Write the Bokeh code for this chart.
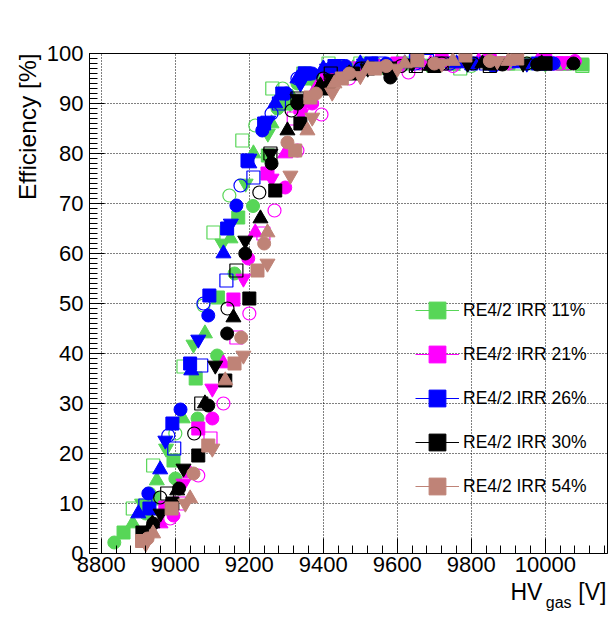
import math
from bokeh.plotting import figure
from bokeh.models import Range1d, Legend, LegendItem, FixedTicker, Title, LinearAxis
from bokeh.embed import file_html
from bokeh.resources import INLINE

# ---------------- data (HV in V, efficiency in %) ----------------
labels = ["RE4/2 IRR 11%", "RE4/2 IRR 21%", "RE4/2 IRR 26%", "RE4/2 IRR 30%", "RE4/2 IRR 54%"]

# 11%
hv_11_sq = [8860, 8940, 8995, 9055, 9115, 9170, 9250, 9300, 9360, 9450, 9550, 9700, 9900, 10100]
ef_11_sq = [4.2, 11, 18.6, 35, 51.2, 67.2, 79.6, 90, 95, 97, 97.5, 97.5, 98, 97.8]
hv_11_ci = [8835, 8920, 9000, 9060, 9113, 9160, 9210, 9276, 9330, 9420, 9520, 9620, 9760, 9950]
ef_11_ci = [2.2, 8, 15, 27, 39.6, 56, 69.5, 89, 94, 97, 98, 98, 98, 98]
hv_11_tu = [8885, 8950, 9020, 9080, 9149, 9211, 9260, 9316, 9380, 9480, 9600, 9750, 9900, 10050]
ef_11_tu = [6, 14.6, 27, 44, 63, 80, 86, 91.2, 95, 97, 98, 97.5, 98, 97.5]
hv_11_td = [8910, 8975, 9049, 9127, 9190, 9250, 9310, 9370, 9460, 9560, 9680, 9850, 10000]
ef_11_td = [10, 21, 41.8, 62, 74, 84, 90, 95, 97, 97.5, 98, 98, 98]
hv_11_osq = [8885, 8940, 9022, 9103, 9181, 9262, 9346, 9414, 9500, 9620, 9770, 9920, 10100]
ef_11_osq = [9, 17.6, 37.4, 64.2, 82.6, 93, 96, 98, 98, 98, 97, 98, 97.5]
hv_11_oci = [8930, 9000, 9076, 9146, 9216, 9290, 9350, 9440, 9540, 9660, 9800, 9960]
ef_11_oci = [12, 24, 49.6, 71.6, 85.6, 93, 96, 97.5, 98, 98, 97.5, 98]

# 21%
hv_21_sq = [8973, 9062, 9157, 9249, 9338, 9410, 9500, 9600, 9720, 9850, 10000]
ef_21_sq = [9.2, 25, 50.8, 76, 89.2, 95, 97, 98, 98.5, 98.5, 98.5]
hv_21_ci = [8995, 9100, 9197, 9297, 9370, 9450, 9550, 9660, 9780, 9920, 10080]
ef_21_ci = [7.6, 27, 59, 73.2, 90, 96, 97.5, 98, 98.5, 98.5, 98.5]
hv_21_tu = [8960, 9040, 9130, 9216, 9297, 9380, 9460, 9570, 9690, 9820, 9980]
ef_21_tu = [6, 16, 38, 64.2, 80, 93, 96.5, 97.5, 98, 98.5, 98.5]
hv_21_td = [9022, 9100, 9184, 9260, 9340, 9420, 9520, 9640, 9760, 9900, 10050]
ef_21_td = [14, 33, 55, 75, 88, 95, 97.5, 98, 98.5, 98.5, 98.5]
hv_21_osq = [9010, 9095, 9165, 9238, 9320, 9400, 9490, 9600, 9730, 9870, 10030]
ef_21_osq = [10, 23, 43.2, 64, 87, 95, 97, 97.5, 98, 98, 98]
hv_21_oci = [8986, 9062, 9130, 9200, 9268, 9330, 9395, 9470, 9630, 9750, 9900, 10060]
ef_21_oci = [7, 15.6, 30, 48, 68.6, 80.6, 87.8, 95, 96.2, 97.5, 98, 98]

# 26%
hv_26_sq = [8930, 8992, 9040, 9092, 9140, 9195, 9240, 9289, 9350, 9430, 9530, 9650, 9800, 9980]
ef_26_sq = [9, 26, 38, 51.6, 65, 78.6, 86, 92, 96, 97.5, 98, 98.5, 98, 98]
hv_26_ci = [8927, 9014, 9089, 9165, 9235, 9300, 9370, 9460, 9570, 9700, 9860, 10020]
ef_26_ci = [12, 28.8, 47.6, 69.6, 84.6, 92, 96, 97.5, 98, 98, 97.5, 98]
hv_26_tu = [8900, 8959, 9043, 9130, 9200, 9270, 9330, 9400, 9500, 9620, 9760, 9930]
ef_26_tu = [8, 16.8, 36.6, 60, 78, 90, 95, 97, 98, 98, 98, 98]
hv_26_td = [8973, 9062, 9150, 9200, 9251, 9338, 9410, 9510, 9640, 9790, 9950]
ef_26_td = [22.6, 42.8, 66, 79, 86.6, 94, 97, 98, 98, 98, 98]
hv_26_osq = [8919, 8997, 9070, 9138, 9211, 9280, 9350, 9440, 9550, 9680, 9840, 10000]
ef_26_osq = [9.6, 21, 37.6, 54.6, 75.2, 90, 96, 97.5, 98, 98.5, 98, 98]
hv_26_oci = [8981, 9076, 9176, 9260, 9330, 9420, 9530, 9650, 9743, 9880, 10022]
ef_26_oci = [23.6, 50, 73.6, 88, 95, 97, 98, 98, 98, 98, 98]

# 30%
hv_30_sq = [8911, 8992, 9062, 9135, 9200, 9270, 9338, 9400, 9480, 9580, 9700, 9850, 10000]
ef_30_sq = [4.2, 10, 19.6, 34.6, 51, 72.6, 86, 93, 96, 97, 97.5, 98, 98]
hv_30_ci = [8940, 9010, 9089, 9140, 9189, 9260, 9330, 9420, 9581, 9700, 9884, 9978, 10076]
ef_30_ci = [6, 13, 29.6, 44, 60, 78, 90, 94, 95.2, 97.5, 97.8, 97.8, 98]
hv_30_tu = [8938, 9005, 9080, 9157, 9230, 9303, 9392, 9470, 9570, 9690, 9830, 9990]
ef_30_tu = [6, 12.6, 30, 47.2, 67, 84.6, 93.6, 96, 97, 97.5, 98, 98]
hv_30_td = [8960, 9022, 9108, 9189, 9257, 9330, 9420, 9520, 9640, 9790, 9940]
ef_30_td = [8, 17, 37.6, 62.6, 80, 91, 95, 97, 98, 98, 98]
hv_30_osq = [8978, 9070, 9165, 9257, 9330, 9420, 9520, 9650, 9720, 9850, 10000]
ef_30_osq = [12, 30, 56.6, 80, 91, 96, 97, 97.5, 98, 97.5, 98]
hv_30_oci = [8959, 9051, 9141, 9227, 9314, 9400, 9500, 9610, 9720, 9805, 9950]
ef_30_oci = [11.2, 24, 49, 72.2, 88.6, 95, 97, 97.5, 98, 98, 98]

# 54%
hv_54_sq = [8910, 8990, 9089, 9160, 9222, 9324, 9365, 9450, 9540, 9654, 9784, 9924]
ef_54_sq = [2.5, 9, 21.6, 38, 56.6, 80.6, 91.2, 95, 97, 98.6, 99.6, 99]
hv_54_ci = [8925, 9049, 9178, 9240, 9303, 9380, 9470, 9570, 9700, 9850]
ef_54_ci = [3, 16, 43.2, 62, 82.2, 92, 96, 97.5, 98, 98.5]
hv_54_tu = [8940, 9040, 9135, 9249, 9357, 9430, 9520, 9620, 9750, 9900]
ef_54_tu = [4, 11, 34.6, 64.2, 84.6, 94, 97, 98, 98.5, 98.5]
hv_54_td = [8920, 9027, 9100, 9184, 9249, 9311, 9370, 9424, 9500, 9600, 9720, 9870]
ef_54_td = [2, 10, 21, 39.6, 58, 75.6, 87.2, 92.2, 95.5, 97, 98, 98.5]

x_ticks = [8800, 9000, 9200, 9400, 9600, 9800, 10000]
y_ticks = [0, 10, 20, 30, 40, 50, 60, 70, 80, 90, 100]

# ---------------- styling ----------------
FONT = "Liberation Sans"
C11, C21, C26, C30, C54 = "#57D657", "#FF00FF", "#0000FF", "#000000", "#BF8377"
X0, X1 = 8768, 10168

p = figure(width=608, height=614, output_backend="svg", toolbar_location=None,
           x_range=Range1d(X0, X1), y_range=Range1d(0, 100),
           min_border_left=89, min_border_right=1, min_border_top=53, min_border_bottom=61)
p.background_fill_color = "white"
p.border_fill_color = "white"
p.outline_line_color = "black"
p.outline_line_width = 1

for ax in (p.xaxis[0], p.yaxis[0]):
    ax.axis_line_color = "black"
    ax.major_tick_line_color = "black"
    ax.minor_tick_line_color = "black"
    ax.major_tick_out = 0
    ax.minor_tick_out = 0
    ax.major_label_text_font = FONT
    ax.major_label_text_font_size = "22px"
    ax.major_label_text_color = "black"

p.xaxis.ticker = FixedTicker(ticks=x_ticks, minor_ticks=list(range(8760, 10170, 40)))
p.yaxis.ticker = FixedTicker(ticks=y_ticks, minor_ticks=list(range(0, 101, 1)))
p.xaxis.major_tick_in = 15
p.xaxis.minor_tick_in = 8
p.yaxis.major_tick_in = 15
p.yaxis.minor_tick_in = 8
p.xaxis.major_label_standoff = 3
p.yaxis.major_label_standoff = 6

for g in (p.xgrid[0], p.ygrid[0]):
    g.grid_line_color = "black"
    g.grid_line_dash = "1 2"
    g.grid_line_width = 1
p.xgrid.ticker = FixedTicker(ticks=x_ticks)
p.ygrid.ticker = FixedTicker(ticks=y_ticks)

SQ, CI, TR = 13, 13, 15

def filled(x, y, marker, color, size):
    p.scatter(x, y, marker=marker, size=size, fill_color=color, line_color=color, line_width=1)

def hollow(x, y, marker, color, size):
    p.scatter(x, y, marker=marker, size=size, fill_color=None, line_color=color, line_width=1.2)

# green 11%
filled(hv_11_sq, ef_11_sq, "square", C11, SQ)
filled(hv_11_ci, ef_11_ci, "circle", C11, CI)
filled(hv_11_tu, ef_11_tu, "triangle", C11, TR)
filled(hv_11_td, ef_11_td, "inverted_triangle", C11, TR)
hollow(hv_11_osq, ef_11_osq, "square", C11, SQ)
hollow(hv_11_oci, ef_11_oci, "circle", C11, CI)
# magenta 21%
filled(hv_21_sq, ef_21_sq, "square", C21, SQ)
filled(hv_21_ci, ef_21_ci, "circle", C21, CI)
filled(hv_21_tu, ef_21_tu, "triangle", C21, TR)
filled(hv_21_td, ef_21_td, "inverted_triangle", C21, TR)
hollow(hv_21_osq, ef_21_osq, "square", C21, SQ)
hollow(hv_21_oci, ef_21_oci, "circle", C21, CI)
# blue 26%
filled(hv_26_sq, ef_26_sq, "square", C26, SQ)
filled(hv_26_ci, ef_26_ci, "circle", C26, CI)
filled(hv_26_tu, ef_26_tu, "triangle", C26, TR)
filled(hv_26_td, ef_26_td, "inverted_triangle", C26, TR)
hollow(hv_26_osq, ef_26_osq, "square", C26, SQ)
hollow(hv_26_oci, ef_26_oci, "circle", C26, CI)
# black 30%
filled(hv_30_sq, ef_30_sq, "square", C30, SQ)
filled(hv_30_ci, ef_30_ci, "circle", C30, CI)
filled(hv_30_tu, ef_30_tu, "triangle", C30, TR)
filled(hv_30_td, ef_30_td, "inverted_triangle", C30, TR)
hollow(hv_30_osq, ef_30_osq, "square", C30, SQ)
hollow(hv_30_oci, ef_30_oci, "circle", C30, CI)
# brown 54%
filled(hv_54_sq, ef_54_sq, "square", C54, SQ)
filled(hv_54_ci, ef_54_ci, "circle", C54, CI)
filled(hv_54_tu, ef_54_tu, "triangle", C54, TR)
filled(hv_54_td, ef_54_td, "inverted_triangle", C54, TR)

# legend (proxy renderers placed outside the visible range)
items = []
for lab, col in zip(labels, [C11, C21, C26, C30, C54]):
    lr = p.line([X0 - 500, X0 - 400], [-50, -50], line_color=col, line_width=1)
    sr = p.scatter([X0 - 450], [-50], marker="square", fill_color=col, line_color=col)
    items.append(LegendItem(label=lab, renderers=[lr, sr]))
legend = Legend(items=items, location=(326, 46), orientation="vertical",
                glyph_width=44, glyph_height=42, label_height=42, spacing=2,
                padding=0, margin=0, border_line_color=None, background_fill_alpha=0,
                label_text_font=FONT, label_text_font_size="17.5px",
                label_text_color="black", label_standoff=4)
p.add_layout(legend)

# y-axis title, aligned at the top end of the axis (ROOT style)
p.add_layout(Title(text="Efficiency [%]", align="right", text_font=FONT,
                   text_font_size="24.5px", text_font_style="normal",
                   text_color="black", standoff=6), "left")

# x-axis title "HV_gas [V]" built from axis labels placed at the right end
pos_hv, pos_v, pos_gas = 9949, 10127, 10036
ax_main = LinearAxis(ticker=FixedTicker(ticks=[pos_hv, pos_v]),
                     major_label_overrides={pos_hv: "HV", pos_v: "[V]"},
                     axis_line_color=None, major_tick_line_color=None,
                     minor_tick_line_color=None, major_tick_in=0, major_tick_out=0,
                     major_label_standoff=4, major_label_text_font=FONT,
                     major_label_text_font_size="23px", major_label_text_color="black")
ax_sub = LinearAxis(ticker=FixedTicker(ticks=[pos_gas]),
                    major_label_overrides={pos_gas: "gas"},
                    axis_line_color=None, major_tick_line_color=None,
                    minor_tick_line_color=None, major_tick_in=0, major_tick_out=0,
                    major_label_standoff=-14, major_label_text_font=FONT,
                    major_label_text_font_size="16px", major_label_text_color="black")
p.add_layout(ax_main, "below")
p.add_layout(ax_sub, "below")

open("out.html", "w").write(file_html(p, INLINE))
